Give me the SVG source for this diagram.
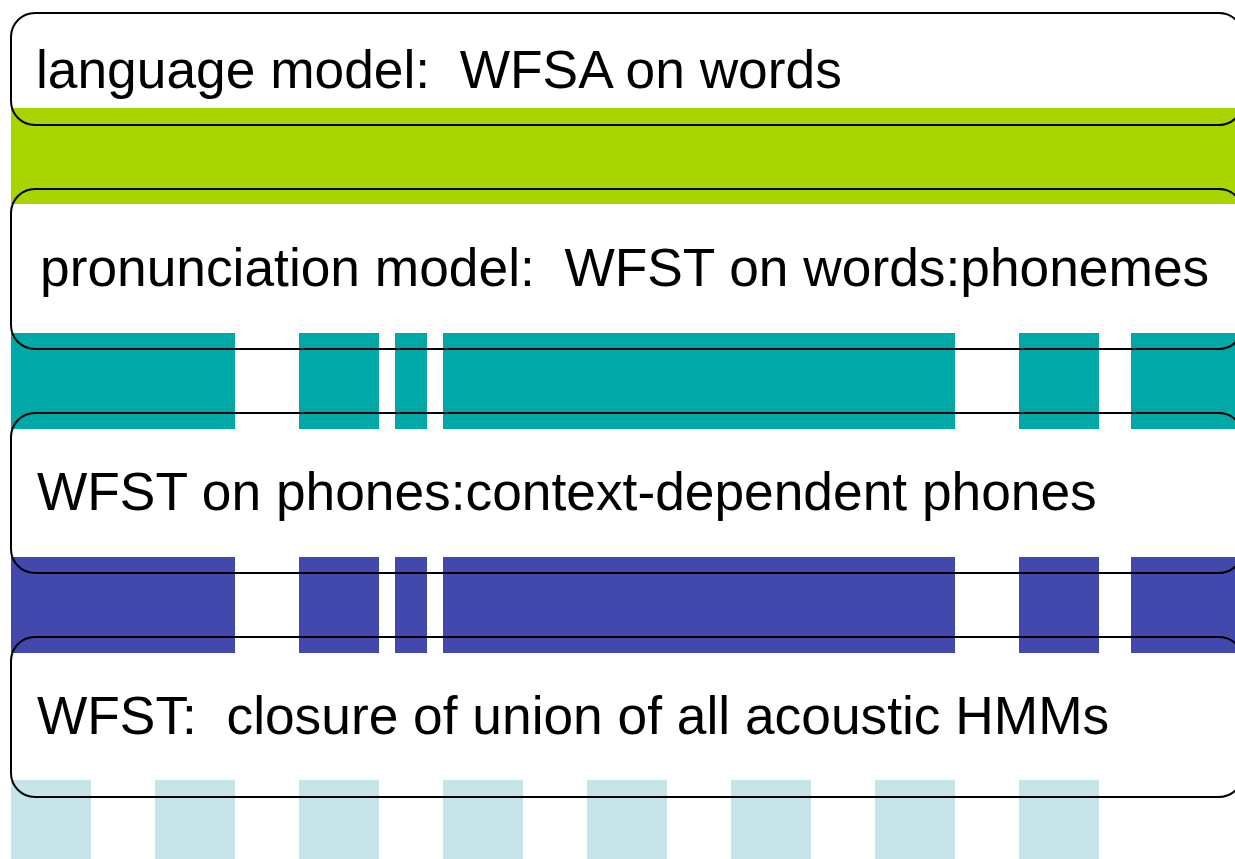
<svg xmlns="http://www.w3.org/2000/svg" width="1235" height="859" viewBox="0 0 1235 859">
  <style>
    .frame { fill: none; stroke: #000000; stroke-width: 2; }
    .label { font-family: "Liberation Sans", Arial, sans-serif; font-size: 53.3px; fill: #000000; white-space: pre; }
    .lm { fill: #A8D400; }
    .pm { fill: #00A8A8; }
    .cd { fill: #4349AC; }
    .hmm { fill: #C5E5E8; }
  </style>
  <rect x="0" y="0" width="1235" height="859" fill="#FFFFFF"/>

  <!-- coloured strips between the layers -->
  <g id="strips">
    <rect class="lm" x="11" y="108" width="1224" height="96"/>

    <g class="pm">
      <rect x="11" y="333" width="224" height="96"/>
      <rect x="299" y="333" width="80" height="96"/>
      <rect x="395" y="333" width="32" height="96"/>
      <rect x="443" y="333" width="512" height="96"/>
      <rect x="1019" y="333" width="80" height="96"/>
      <rect x="1131" y="333" width="104" height="96"/>
    </g>

    <g class="cd">
      <rect x="11" y="557" width="224" height="96"/>
      <rect x="299" y="557" width="80" height="96"/>
      <rect x="395" y="557" width="32" height="96"/>
      <rect x="443" y="557" width="512" height="96"/>
      <rect x="1019" y="557" width="80" height="96"/>
      <rect x="1131" y="557" width="104" height="96"/>
    </g>

    <g class="hmm">
      <rect x="11" y="780" width="80" height="79"/>
      <rect x="155" y="780" width="80" height="79"/>
      <rect x="299" y="780" width="80" height="79"/>
      <rect x="443" y="780" width="80" height="79"/>
      <rect x="587" y="780" width="80" height="79"/>
      <rect x="731" y="780" width="80" height="79"/>
      <rect x="875" y="780" width="80" height="79"/>
      <rect x="1019" y="780" width="80" height="79"/>
    </g>
  </g>

  <!-- layer boxes -->
  <g id="language-model">
    <rect class="frame" x="11" y="13" width="1232" height="112" rx="24" ry="24"/>
    <text class="label" x="36" y="88" xml:space="preserve">language model:  WFSA on words</text>
  </g>

  <g id="pronunciation-model">
    <rect class="frame" x="11" y="189" width="1232" height="160" rx="24" ry="24"/>
    <text class="label" x="40" y="286" xml:space="preserve">pronunciation model:  WFST on words:phonemes</text>
  </g>

  <g id="context-dependency">
    <rect class="frame" x="11" y="413" width="1232" height="160" rx="24" ry="24"/>
    <text class="label" x="37" y="510">WFST on phones:context-dependent phones</text>
  </g>

  <g id="acoustic-hmms">
    <rect class="frame" x="11" y="637" width="1232" height="160" rx="24" ry="24"/>
    <text class="label" x="37" y="734" xml:space="preserve">WFST:  closure of union of all acoustic HMMs</text>
  </g>
</svg>
